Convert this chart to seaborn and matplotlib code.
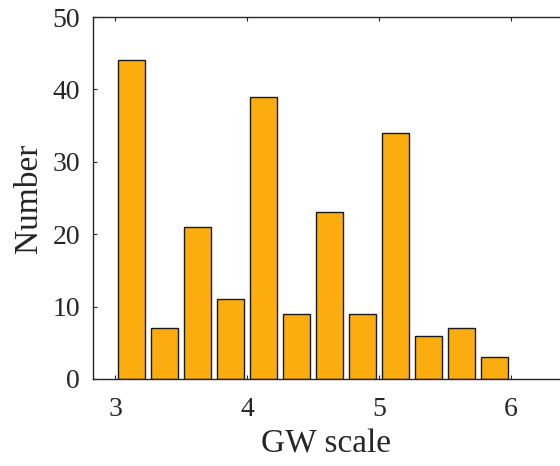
import numpy as np
import pandas as pd
import matplotlib
matplotlib.use("Agg")
import matplotlib.pyplot as plt
import seaborn as sns

# GW scale bin centres and counts
gw_scale = [3.125, 3.375, 3.625, 3.875, 4.125, 4.375, 4.625, 4.875, 5.125, 5.375, 5.625, 5.875]
counts = [44, 7, 21, 11, 39, 9, 23, 9, 34, 6, 7, 3]
xticks = [3, 4, 5, 6]
yticks = [0, 10, 20, 30, 40, 50]

sns.set_style("white")
plt.rcParams["font.family"] = ["Liberation Serif", "DejaVu Serif"]

df = pd.DataFrame({"gw": gw_scale, "n": counts})

fig = plt.figure(figsize=(5.6, 4.66), dpi=100)
ax = fig.add_axes([0.1655, 0.1867, 0.8345, 0.7768])

sns.histplot(data=df, x="gw", weights="n", binwidth=0.25, binrange=(3, 6),
             shrink=0.8, color="#FBAD0F", alpha=1, edgecolor="#1a1a1a",
             linewidth=1.0, ax=ax)

ax.set_xlim(2.83, 6.37)
ax.set_ylim(0, 50)
ax.set_xticks(xticks)
ax.set_yticks(yticks)
ax.set_xlabel("GW scale", fontsize=24, color="#262626", labelpad=5)
ax.set_ylabel("Number", fontsize=24, color="#262626", labelpad=6)
ax.tick_params(direction="in", length=3, width=0.8, colors="#262626",
               labelsize=20, top=True, bottom=True, left=True)
ax.tick_params(axis="x", pad=13)
ax.tick_params(axis="y", pad=9)
for s in ["left", "bottom", "top"]:
    ax.spines[s].set_color("#262626")
    ax.spines[s].set_linewidth(1.0)
ax.spines["right"].set_visible(False)
ax.grid(False)

fig.savefig("out.png", dpi=100)
